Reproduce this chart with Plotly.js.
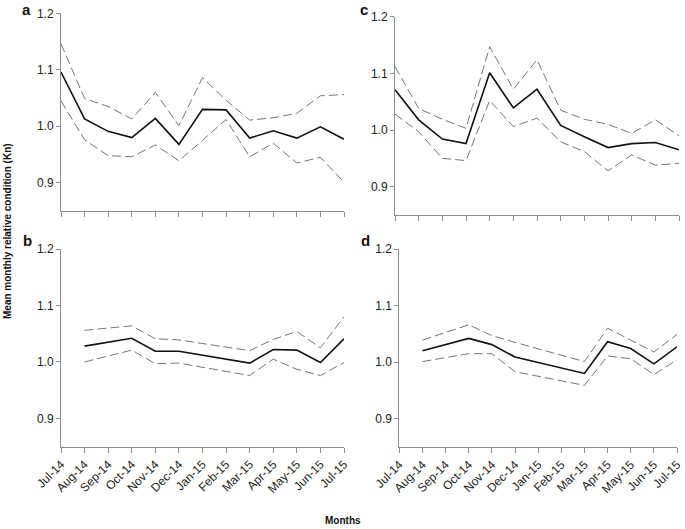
<!DOCTYPE html>
<html>
<head>
<meta charset="utf-8">
<script src="https://cdn.plot.ly/plotly-3.0.1.min.js"></script>
<style>html,body{margin:0;padding:0;background:#fff;}#chart{width:685px;height:529px;}</style>
</head>
<body>
<div id="chart"></div>
<script>
// Categories
const months = ['Jul-14','Aug-14','Sep-14','Oct-14','Nov-14','Dec-14','Jan-15','Feb-15','Mar-15','Apr-15','May-15','Jun-15','Jul-15'];

// Panel a
const aMean  = [1.096, 1.013, 0.991, 0.980, 1.014, 0.968, 1.030, 1.029, 0.979, 0.992, 0.979, 0.999, 0.977];
const aUpper = [1.146, 1.049, 1.035, 1.013, 1.060, 1.001, 1.086, 1.046, 1.011, 1.015, 1.023, 1.054, 1.056];
const aLower = [1.045, 0.976, 0.948, 0.946, 0.967, 0.939, 0.975, 1.012, 0.946, 0.970, 0.935, 0.945, 0.901];

// Panel b (missing months are null)
const bMean  = [null, 1.028, null, 1.042, 1.019, 1.019, null, null, 0.998, 1.022, 1.021, 0.999, 1.041];
const bUpper = [null, 1.056, null, 1.064, 1.041, 1.039, null, null, 1.020, 1.040, 1.054, 1.025, 1.080];
const bLower = [null, 1.000, null, 1.021, 0.997, 0.998, null, null, 0.976, 1.005, 0.987, 0.976, 0.999];

// Panel c
const cMean  = [1.071, 1.018, 0.984, 0.976, 1.101, 1.039, 1.072, 1.008, 0.988, 0.969, 0.976, 0.978, 0.965];
const cUpper = [1.112, 1.038, 1.019, 1.003, 1.147, 1.072, 1.124, 1.035, 1.019, 1.010, 0.994, 1.018, 0.990];
const cLower = [1.028, 0.997, 0.950, 0.946, 1.052, 1.006, 1.021, 0.979, 0.962, 0.928, 0.956, 0.938, 0.941];

// Panel d
const dMean  = [null, 1.020, null, 1.042, 1.031, 1.009, null, null, 0.980, 1.036, 1.024, 0.997, 1.027];
const dUpper = [null, 1.039, null, 1.066, 1.047, 1.035, null, null, 1.001, 1.060, 1.039, 1.018, 1.049];
const dLower = [null, 1.001, null, 1.015, 1.015, 0.983, null, null, 0.959, 1.011, 1.006, 0.978, 1.004];

const yTicks = [0.9, 1.0, 1.1, 1.2];
const yTickText = ['0.9', '1.0', '1.1', '1.2'];

const panels = [
  {mean: aMean, up: aUpper, lo: aLower, xa: 'x',  ya: 'y'},
  {mean: bMean, up: bUpper, lo: bLower, xa: 'x2', ya: 'y2'},
  {mean: cMean, up: cUpper, lo: cLower, xa: 'x3', ya: 'y3'},
  {mean: dMean, up: dUpper, lo: dLower, xa: 'x4', ya: 'y4'}
];

const traces = [];
panels.forEach(p => {
  [p.up, p.lo].forEach(arr => traces.push({
    x: months, y: arr, xaxis: p.xa, yaxis: p.ya, type: 'scatter', mode: 'lines',
    connectgaps: true, line: {color: '#767676', width: 1, dash: '9px,4px'}, hoverinfo: 'skip'
  }));
  traces.push({
    x: months, y: p.mean, xaxis: p.xa, yaxis: p.ya, type: 'scatter', mode: 'lines',
    connectgaps: true, line: {color: '#111', width: 1.6}
  });
});

const W = 685, H = 529;
const px = v => v / W;
const py = v => 1 - v / H;

const font = {family: 'Liberation Sans, Arial, sans-serif', size: 12, color: '#222'};

function xAxis(domain, anchor, showLabels) {
  return {
    domain: domain, anchor: anchor, type: 'category', range: [0, 12],
    showline: true, linecolor: '#8c8c8c', linewidth: 1,
    ticks: 'outside', ticklen: 5, tickcolor: '#8c8c8c', tickwidth: 1,
    showgrid: false, zeroline: false, showticklabels: showLabels,
    tickangle: -45, tickfont: font, fixedrange: true
  };
}
function yAxis(domain, anchor) {
  return {
    domain: domain, anchor: anchor, range: [0.85, 1.2],
    tickvals: yTicks, ticktext: yTickText,
    showline: true, linecolor: '#8c8c8c', linewidth: 1,
    ticks: 'outside', ticklen: 4, tickcolor: '#8c8c8c', tickwidth: 1,
    showgrid: false, zeroline: false, tickfont: font, fixedrange: true
  };
}

const layout = {
  width: W, height: H,
  margin: {l: 0, r: 0, t: 0, b: 0},
  paper_bgcolor: '#fff', plot_bgcolor: 'rgba(0,0,0,0)',
  showlegend: false,
  font: font,
  xaxis:  xAxis([px(61), px(344)], 'y', false),
  yaxis:  yAxis([py(211), py(13.3)], 'x'),
  xaxis2: xAxis([px(61), px(344)], 'y2', true),
  yaxis2: yAxis([py(446.7), py(249)], 'x2'),
  xaxis3: xAxis([px(395), px(679)], 'y3', false),
  yaxis3: yAxis([py(215), py(16.7)], 'x3'),
  xaxis4: xAxis([px(399.3), px(677)], 'y4', true),
  yaxis4: yAxis([py(447), py(249)], 'x4'),
  annotations: [
    {text: '<b>a</b>', x: px(26), y: py(9), xref: 'paper', yref: 'paper', showarrow: false, xanchor: 'center', yanchor: 'middle', font: {family: 'Liberation Sans, Arial', size: 15, color: '#111'}},
    {text: '<b>b</b>', x: px(27.5), y: py(240), xref: 'paper', yref: 'paper', showarrow: false, xanchor: 'center', yanchor: 'middle', font: {family: 'Liberation Sans, Arial', size: 15, color: '#111'}},
    {text: '<b>c</b>', x: px(363.7), y: py(9), xref: 'paper', yref: 'paper', showarrow: false, xanchor: 'center', yanchor: 'middle', font: {family: 'Liberation Sans, Arial', size: 15, color: '#111'}},
    {text: '<b>d</b>', x: px(365), y: py(240), xref: 'paper', yref: 'paper', showarrow: false, xanchor: 'center', yanchor: 'middle', font: {family: 'Liberation Sans, Arial', size: 15, color: '#111'}},
    {text: '<b>Mean monthly relative condition (Kn)</b>', x: px(8), y: py(231), xref: 'paper', yref: 'paper', showarrow: false, textangle: -90, xanchor: 'center', yanchor: 'middle', font: {family: 'Liberation Sans, Arial', size: 10, color: '#111'}},
    {text: '<b>Months</b>', x: px(343), y: py(520), xref: 'paper', yref: 'paper', showarrow: false, xanchor: 'center', yanchor: 'middle', font: {family: 'Liberation Sans, Arial', size: 10, color: '#111'}}
  ]
};

Plotly.newPlot('chart', traces, layout, {staticPlot: true, displayModeBar: false});
</script>
</body>
</html>
